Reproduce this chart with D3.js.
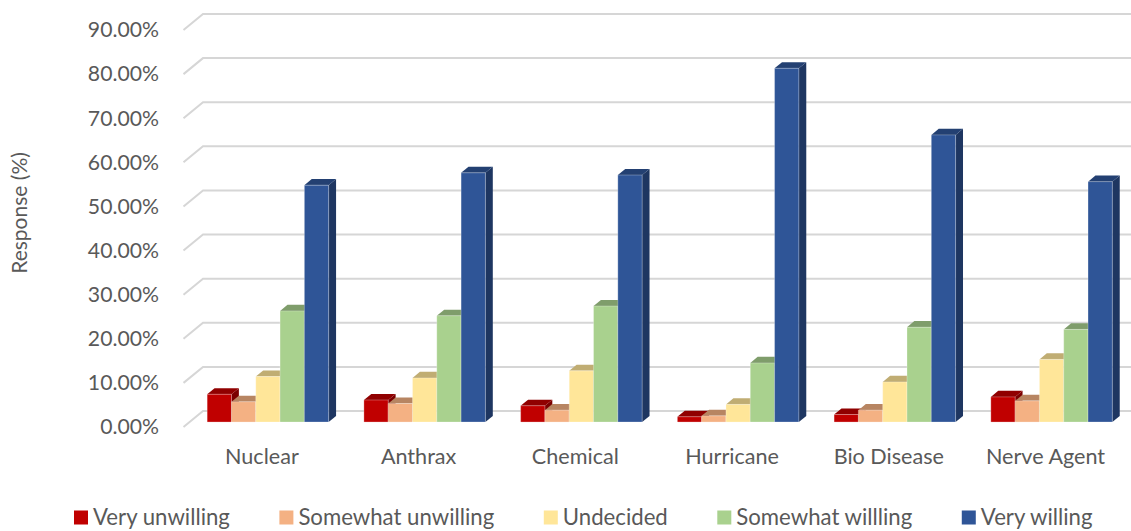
<!DOCTYPE html>
<html>
<head>
<meta charset="utf-8">
<script src="https://cdn.jsdelivr.net/npm/d3@7"></script>
<style>
  html, body { margin: 0; padding: 0; background: #ffffff; }
  svg { display: block; font-family: Lato, "Open Sans", sans-serif; }
</style>
</head>
<body>
<svg id="chart" width="1131" height="531"></svg>
<script>
// Willingness to respond, by emergency scenario
const categories = ["Nuclear", "Anthrax", "Chemical", "Hurricane", "Bio Disease", "Nerve Agent"];
const seriesNames = ["Very unwilling", "Somewhat unwilling", "Undecided", "Somewhat willling", "Very willing"];
const seriesColors = ["#C00000", "#F4B183", "#FFE699", "#A9D18E", "#2F5597"];

const veryUnwilling     = [0.063, 0.050, 0.037, 0.012, 0.017, 0.057];
const somewhatUnwilling = [0.046, 0.042, 0.027, 0.014, 0.027, 0.048];
const undecided         = [0.103, 0.100, 0.116, 0.040, 0.091, 0.142];
const somewhatWilling   = [0.252, 0.241, 0.263, 0.134, 0.215, 0.210];
const veryWilling       = [0.537, 0.565, 0.560, 0.802, 0.651, 0.545];

const yTicks = [0, 0.1, 0.2, 0.3, 0.4, 0.5, 0.6, 0.7, 0.8, 0.9];
const yTitle = "Response (%)";

const seriesValues = [veryUnwilling, somewhatUnwilling, undecided, somewhatWilling, veryWilling];

const W = 1131, H = 531;
const svg = d3.select("#chart");
const textColor = "#595959";
const fontFamily = "Lato, 'Open Sans', sans-serif";

// Oblique 3D projection: front plane of the plot plus a depth vector
const depth = [19.5, -16];
const barNear = 0.31, barFar = 0.69;

const x = d3.scaleBand().domain(categories).range([183.5, 1123.9]).padding(0);
const xs = d3.scaleBand().domain(seriesNames).range([0, x.bandwidth()])
  .paddingInner(0).paddingOuter(0.725);
const y = d3.scaleLinear().domain([0, 0.9]).range([427, 30]);

const proj = (px, v, t) => [px + t * depth[0], y(v) + t * depth[1]];
const poly = pts => "M" + pts.map(p => p.join(",")).join("L") + "Z";

// Gridlines: diagonal on the left wall, horizontal on the back wall
const grid = svg.append("g");
yTicks.forEach(v => {
  const a = proj(x.range()[0], v, 0);
  const b = proj(x.range()[0], v, 1);
  grid.append("path")
    .attr("d", `M${a[0]},${a[1]}L${b[0]},${b[1]}L${W + 20},${b[1]}`)
    .attr("fill", "none")
    .attr("stroke", "#d6d6d6")
    .attr("stroke-width", 2);
});

// Bars, painted left to right so nearer faces cover hidden sides
const bars = svg.append("g");
categories.forEach((cat, ci) => {
  seriesNames.forEach((name, si) => {
    const v = seriesValues[si][ci];
    const xl = x(cat) + xs(name);
    const xr = xl + xs.bandwidth();
    const base = d3.color(seriesColors[si]);
    const g = bars.append("g");
    g.append("path")
      .attr("d", poly([proj(xr, 0, barNear), proj(xr, 0, barFar), proj(xr, v, barFar), proj(xr, v, barNear)]))
      .attr("fill", base.darker(1.25));
    g.append("path")
      .attr("d", poly([proj(xl, v, barNear), proj(xr, v, barNear), proj(xr, v, barFar), proj(xl, v, barFar)]))
      .attr("fill", base.darker(0.8));
    g.append("path")
      .attr("d", poly([proj(xl, 0, barNear), proj(xr, 0, barNear), proj(xr, v, barNear), proj(xl, v, barNear)]))
      .attr("fill", base)
      .attr("stroke", "rgba(255,255,255,0.35)")
      .attr("stroke-width", 0.8);
  });
});

// Value axis labels
const yAxis = svg.append("g")
  .attr("transform", `translate(${x.range()[0]},0)`)
  .call(d3.axisLeft(y).tickValues(yTicks).tickFormat(d3.format(".2%")).tickSize(0).tickPadding(24.5));
yAxis.select(".domain").remove();
yAxis.selectAll("text")
  .attr("fill", textColor)
  .style("font-size", "21.2px")
  .style("font-family", fontFamily);

// Category axis labels along the front edge of the floor
const xAxis = svg.append("g")
  .attr("transform", `translate(0,${y(0)})`)
  .call(d3.axisBottom(x).tickSize(0).tickPadding(21.7));
xAxis.select(".domain").remove();
xAxis.selectAll("text")
  .attr("fill", textColor)
  .style("font-size", "21.6px")
  .style("font-family", fontFamily);

// Axis title
svg.append("text")
  .attr("transform", "translate(27,213) rotate(-90)")
  .attr("text-anchor", "middle")
  .attr("fill", textColor)
  .style("font-size", "21px")
  .text(yTitle);

// Legend
const legend = svg.append("g").attr("transform", "translate(74,517.5)");
const sq = 14, sqGap = 5, itemGap = 49.5;
let lx = 0;
seriesNames.forEach((name, i) => {
  const g = legend.append("g").attr("transform", `translate(${lx},0)`);
  g.append("rect").attr("x", 0).attr("y", -sq / 2).attr("width", sq).attr("height", sq)
    .attr("fill", seriesColors[i]);
  const t = g.append("text").attr("x", sq + sqGap).attr("y", 0).attr("dy", "0.35em")
    .attr("fill", textColor).style("font-size", "22.2px").text(name);
  lx += sq + sqGap + t.node().getComputedTextLength() + itemGap;
});
</script>
</body>
</html>
